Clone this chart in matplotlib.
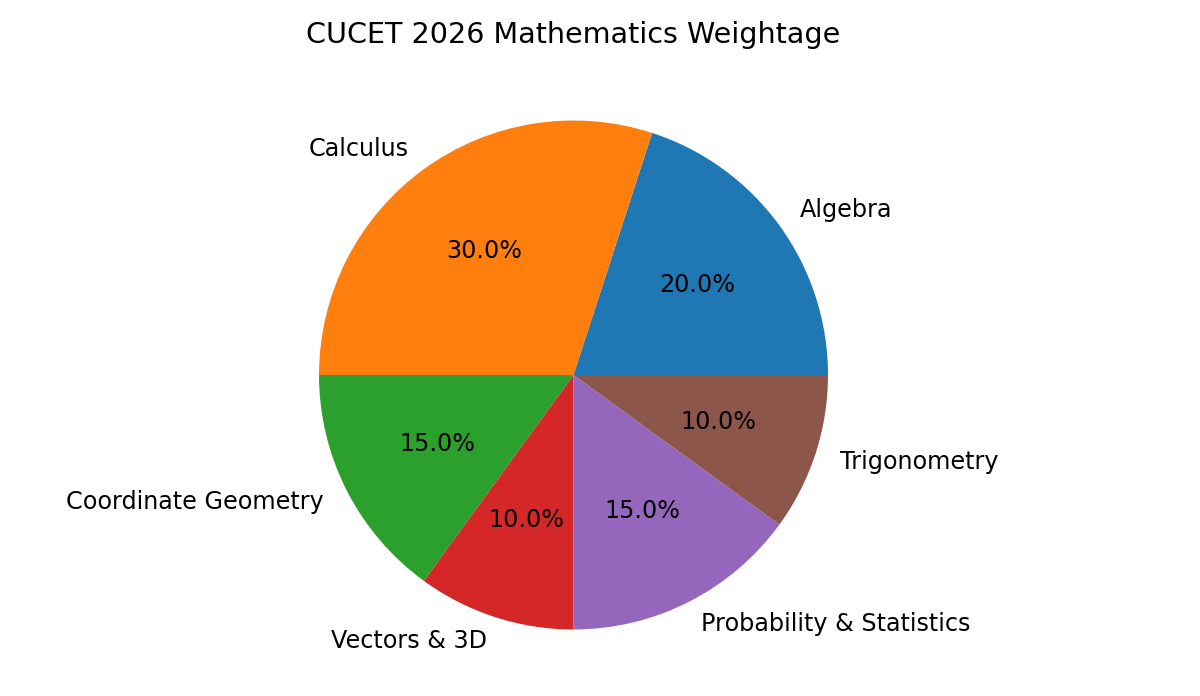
import matplotlib
matplotlib.use("Agg")
import matplotlib.pyplot as plt

# topic weightage (percent)
topics = ["Algebra", "Calculus", "Coordinate Geometry", "Vectors & 3D",
          "Probability & Statistics", "Trigonometry"]
weights = [20, 30, 15, 10, 15, 10]

dpi = 172
fig = plt.figure(figsize=(1200 / dpi, 696 / dpi), dpi=dpi)

# pie centre at (573, 375) px, radius ~255 px
r_px = 254.5
box = 2.5 * r_px
cx, cy = 573.5, 696 - 375
ax = fig.add_axes([(cx - box / 2) / 1200, (cy - box / 2) / 696, box / 1200, box / 696])

ax.pie(weights, labels=topics, autopct="%1.1f%%")
ax.set_title("CUCET 2026 Mathematics Weightage")

fig.savefig("out.png", dpi=dpi)
